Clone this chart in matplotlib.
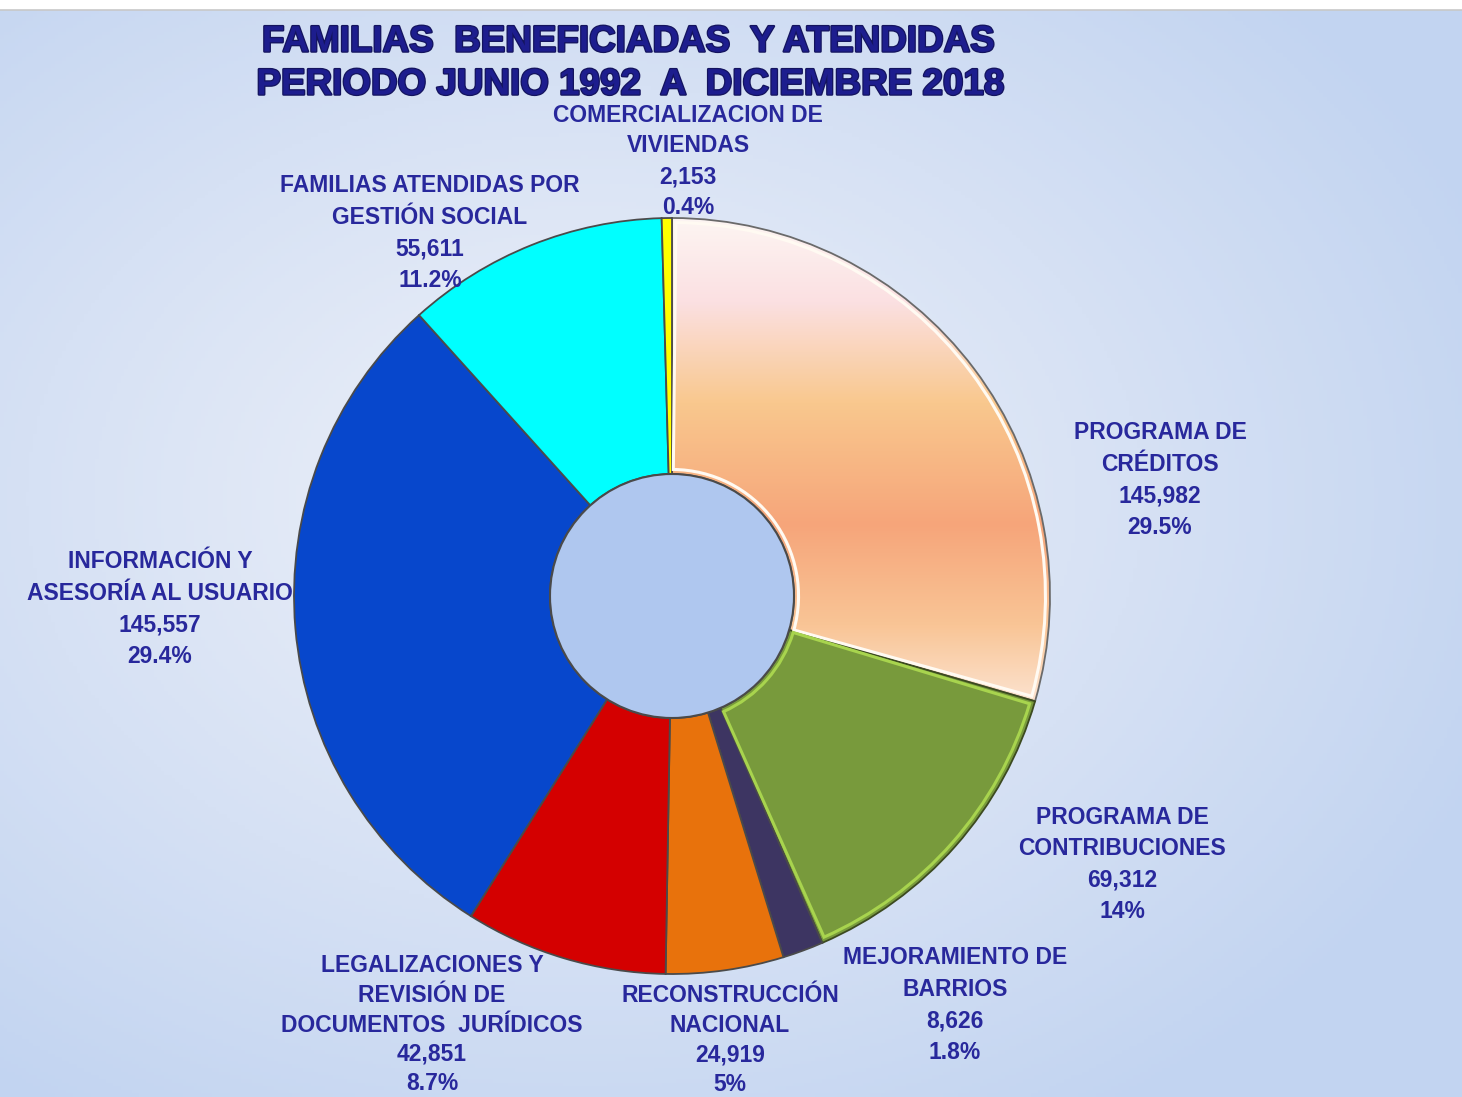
import matplotlib
matplotlib.use("Agg")
import matplotlib.pyplot as plt
import numpy as np
from matplotlib.colors import LinearSegmentedColormap
from matplotlib.patches import Circle, Wedge
import matplotlib.patheffects as pe

# ---------------- data ----------------
categories = [
    "PROGRAMA DE\nCRÉDITOS",
    "PROGRAMA DE\nCONTRIBUCIONES",
    "MEJORAMIENTO DE\nBARRIOS",
    "RECONSTRUCCIÓN\nNACIONAL",
    "LEGALIZACIONES Y\nREVISIÓN DE\nDOCUMENTOS  JURÍDICOS",
    "INFORMACIÓN Y\nASESORÍA AL USUARIO",
    "FAMILIAS ATENDIDAS POR\nGESTIÓN SOCIAL",
    "COMERCIALIZACION DE\nVIVIENDAS",
]
values = [145982, 69312, 8626, 24919, 42851, 145557, 55611, 2153]
pct_labels = ["29.5%", "14%", "1.8%", "5%", "8.7%", "29.4%", "11.2%", "0.4%"]

title_lines = ["FAMILIAS  BENEFICIADAS  Y ATENDIDAS",
               "PERIODO JUNIO 1992  A  DICIEMBRE 2018"]

# ---------------- styles / layout ----------------
W, H = 1462, 1097
slice_colors = ["#f8b98a", "#789a3c", "#3d3562", "#e8720c",
                "#d40000", "#0747cc", "#00ffff", "#ffff00"]
label_centers_px = [(1160, 433), (1122, 817), (955, 958), (730, 996),
                    (432, 966), (160, 562), (430, 186), (688, 115)]
label_steps_px = [31.5, 31.5, 31.5, 29.5, 29.5, 31.5, 31.5, 31.0]
label_color = "#28289c"
lab_family = ["Liberation Sans", "DejaVu Sans"]

fig = plt.figure(figsize=(W / 100, H / 100), dpi=100)
fig.patch.set_facecolor("white")

# background gradient
bg = fig.add_axes([0, 0, 1, 1 - 10 / H])
bg.set_axis_off()
yy, xx = np.mgrid[0:1:300j, 0:1:400j]
r = np.sqrt(((xx - 0.40) / 0.9) ** 2 + ((yy - 0.55) / 0.9) ** 2)
bg_cmap = LinearSegmentedColormap.from_list("bg", ["#e9eef8", "#d6e1f4", "#c2d4f1"])
bg.imshow(r, cmap=bg_cmap, aspect="auto", extent=(0, 1, 0, 1), origin="lower",
          vmin=0.1, vmax=0.75)
bg.set_xlim(0, 1)
bg.set_ylim(0, 1)
fig.add_artist(plt.Line2D([0, 1], [1 - 10 / H, 1 - 10 / H], color="#c8c8c8", lw=1.2,
                          transform=fig.transFigure))

# pie axes: centre (672, 596) px, radius 378 px
cx, cy, R = 672, 596, 378
lim = 1.1
side = 2 * R * lim
ax = fig.add_axes([(cx - side / 2) / W, (H - cy - side / 2) / H, side / W, side / H])
ax.set_axis_off()

hole_r = 122 / R
ring_w = 1 - hole_r
wedges, _ = ax.pie(values, colors=slice_colors, startangle=90, counterclock=False,
                   radius=1.0,
                   wedgeprops=dict(width=ring_w, edgecolor="#4a4a4a", linewidth=1.3))
ax.set_xlim(-lim, lim)
ax.set_ylim(-lim, lim)

# gradient fill for first slice
grad_cmap = LinearSegmentedColormap.from_list(
    "cred", [(0.0, "#fce8da"), (0.18, "#f9c596"), (0.38, "#f6a57a"),
             (0.62, "#f9c88e"), (0.82, "#fbe0e2"), (1.0, "#fdf7f4")])
gy = np.linspace(0, 1, 256).reshape(-1, 1)
img = ax.imshow(gy, cmap=grad_cmap, aspect="auto", origin="lower",
                extent=(-0.05, 1.05, -0.32, 1.02), zorder=0.5)
img.set_clip_path(wedges[0])
wedges[0].set_facecolor("none")
wedges[0].set_edgecolor("#6a6a6a")
wedges[1].set_edgecolor("#3c4a20")

# bevel highlights (inset outlines) on the first two slices
for w, col in [(wedges[0], "#fffaf2"), (wedges[1], "#a8d44e")]:
    ax.add_patch(Wedge((0, 0), 0.988, w.theta1 + 0.6, w.theta2 - 0.6,
                       width=ring_w - 0.024, facecolor="none", edgecolor=col,
                       linewidth=2.2, zorder=1.5))

# hole
ax.add_patch(Circle((0, 0), hole_r, facecolor="#afc7ef", edgecolor="#4a4a4a",
                    linewidth=1.5, zorder=3))

# labels
for name, val, pct, (lx, ly), step in zip(categories, values, pct_labels,
                                          label_centers_px, label_steps_px):
    lines = name.split("\n") + [f"{val:,}", pct]
    for i, t in enumerate(lines):
        fig.text(lx / W, 1 - (ly + i * step) / H, t, ha="center", va="center",
                 fontsize=16.5, fontweight="bold", color=label_color, family=lab_family)

# title
title_pos = [(628, 42), (630, 85)]
for t, (tx, ty) in zip(title_lines, title_pos):
    fig.text(tx / W, 1 - ty / H, t, ha="center", va="center", fontsize=26.5,
             fontweight="bold", color="#1d1d8e",
             family=["Liberation Sans", "DejaVu Sans"],
             path_effects=[pe.withStroke(linewidth=1.8, foreground="#14145e")])

fig.savefig("out.png", dpi=100)
